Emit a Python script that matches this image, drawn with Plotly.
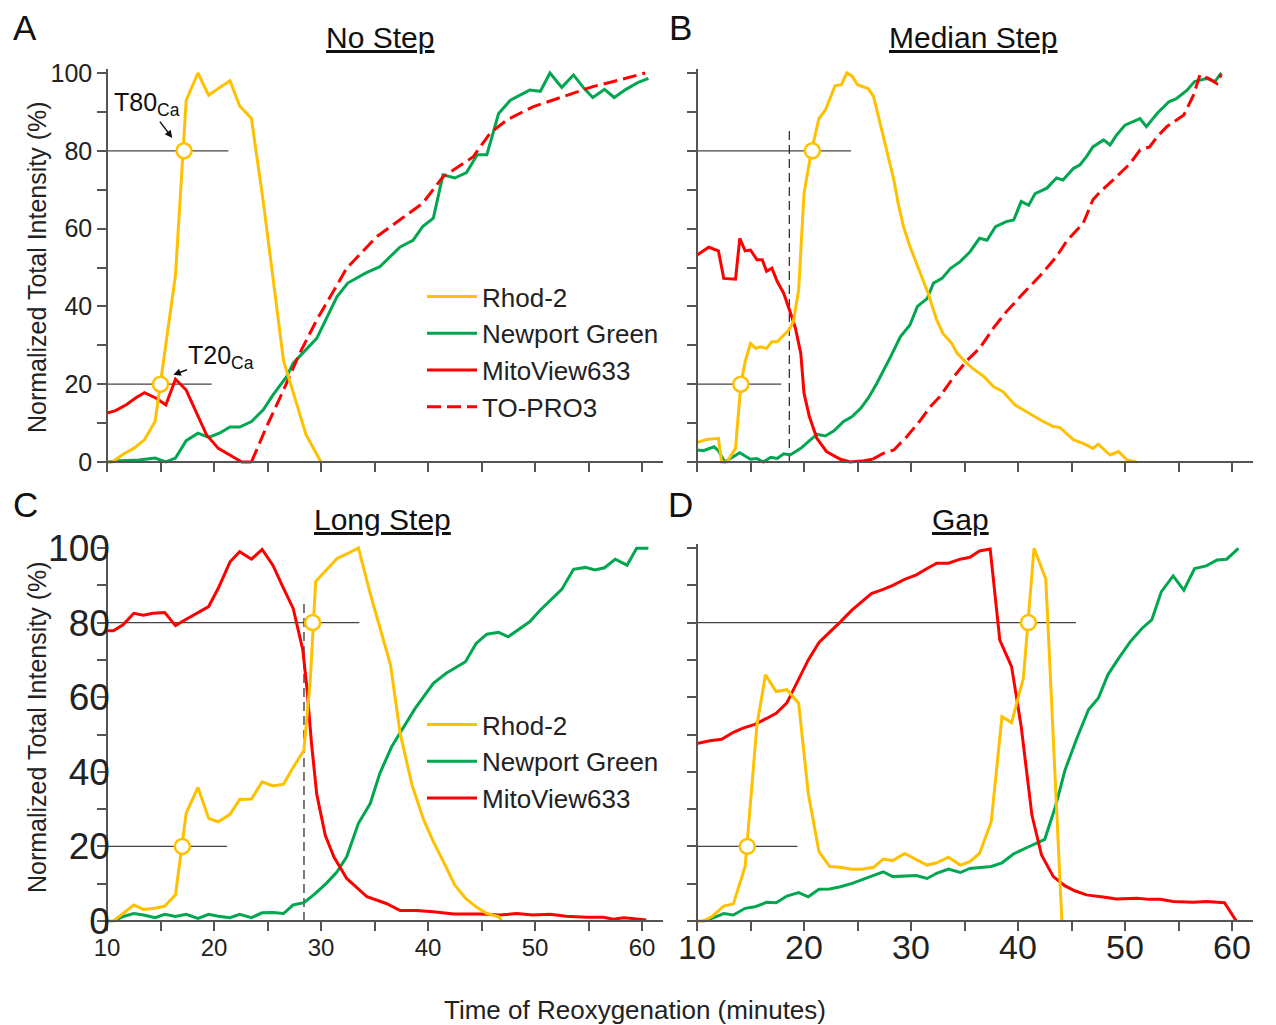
import plotly.graph_objects as go

W, H = 1276, 1025
FONT = "Liberation Sans, Arial, sans-serif"

# ---------------- DATA ----------------
# Panel A: No Step
a_rhod_t = [10, 10.5, 11.5, 12.5, 13.5, 14.5, 16.4, 17.4, 18.5, 19.5, 20.5, 21.5, 22.4, 23.5, 24.6, 25.5, 26.5, 27.5, 28.6, 30.0]
a_rhod_v = [0, 0, 2, 3.5, 5.7, 10.5, 48, 93, 100, 94.3, 96.2, 98, 91.5, 88.3, 67, 48, 26, 17, 7, 0]
a_mito_t = [10, 10.8, 11.8, 12.7, 13.5, 14.6, 15.5, 16.4, 17.4, 18.4, 19.3, 20.4, 21.5, 22.6, 23.5]
a_mito_v = [12.6, 13.2, 14.7, 16.5, 17.8, 16.4, 14.7, 21.3, 18.5, 12.6, 7, 3.5, 1.8, 0, 0]
a_topro_t = [23.5, 24.9, 26.5, 28.0, 29.6, 31.2, 32.4, 35.2, 37.4, 39.5, 41.4, 44.2, 45.8, 47.4, 49.8, 53.0, 55.4, 57.9, 60.3]
a_topro_v = [0, 9, 18.5, 27.9, 36.5, 44.2, 49.8, 57.9, 62.2, 66.5, 73.3, 78.4, 84.5, 88, 91.3, 94.3, 96.5, 98.2, 100]
a_green_t = [10, 11.2, 13.0, 14.5, 15.5, 16.4, 17.4, 18.5, 19.5, 20.5, 21.5, 22.4, 23.5, 24.6, 25.5, 26.8, 27.4, 28.6, 29.6,
             31.5, 32.5, 34.2, 35.5, 37.4, 38.6, 39.5, 40.5, 41.4, 42.5, 43.6, 44.6, 45.5, 46.6, 47.7, 49.5, 50.5, 51.4,
             52.5, 53.6, 54.6, 55.4, 56.5, 57.4, 58.5, 59.6, 60.6]
a_green_v = [0, 0.3, 0.5, 1, 0, 1, 5.5, 7.4, 6.3, 7.4, 9, 9, 10.4, 13.4, 17.2, 22, 25.4, 28.8, 31.8,
             42.5, 46, 48.6, 50.2, 55.3, 57, 60.5, 62.7, 73.8, 73, 74.4, 79, 79, 89.6, 93, 95.6, 95.3, 100,
             96.3, 99.5, 96, 93.7, 95.8, 93.7, 95.8, 97.5, 98.6]

# Panel B: Median Step
b_rhod_t = [10, 10.9, 12, 12.3, 12.8, 13.6, 14.1, 14.5, 15, 15.5, 15.9, 16.5, 17, 17.5, 18.1, 18.6, 19, 19.5, 20, 20.7,
            21.4, 22, 22.9, 23.5, 24, 24.5, 25, 26, 26.5, 27.4, 28.4, 28.8, 29.3, 29.9, 30.9, 31.6, 32.4, 33, 33.8,
            34.3, 35.2, 35.8, 36.8, 37.7, 38.6, 39.7, 40.8, 42.1, 43.3, 43.9, 45.2, 46.1, 47, 47.5, 48.6, 49.4, 50.2, 51.1]
b_rhod_v = [5, 5.8, 6.1, 0, 0, 3.5, 20, 25.8, 30.5, 29.2, 29.6, 29.2, 30.9, 30.9, 32.6, 34, 36, 44.2, 69, 80,
            88.3, 90.5, 96.7, 97, 100, 99.2, 97, 96, 94, 83.6, 72.5, 66.5, 60.5, 55.4, 48.5, 43.4, 36.5, 33, 30.5,
            28, 25.4, 24, 22, 19.4, 18.1, 14.7, 12.9, 10.8, 9.1, 8.9, 5.7, 4.8, 3.5, 4.6, 1.8, 2.7, 0.5, 0]
b_mito_t = [10, 11.1, 12, 12.5, 13.6, 14, 14.5, 15, 15.6, 16.1, 16.5, 17, 17.5, 18.1, 18.7, 19.2, 19.7, 20, 20.5,
            21.2, 22.1, 23.4, 24.3, 25.6, 26.4]
b_mito_v = [53.2, 55.2, 54.3, 47.2, 47, 57.5, 54.3, 54.5, 52, 52, 49, 49.8, 46.4, 43.4, 38.6, 34.4, 27.9, 17.7, 11.7,
            6.1, 2.7, 0.7, 0, 0.3, 0.7]
b_topro_t = [26.4, 27.4, 28.4, 29.6, 30.9, 31.8, 32.7, 34.0, 35.2, 36.4, 37.7, 38.9, 40.5, 42.1, 43.6, 44.6, 46.1,
             47.0, 47.7, 48.9, 50.5, 51.4, 52.3, 53.0, 53.9, 55.5, 56.4, 57.0, 57.8, 58.6, 59.0]
b_topro_v = [0.7, 2.2, 3.1, 6.5, 10.8, 14.2, 16.8, 21.9, 26, 29.2, 34.4, 38.6, 43.4, 48, 52.8, 57, 61.4,
             67.4, 69.5, 72.5, 76.8, 80.2, 81, 83.6, 86.2, 89.2, 94.3, 99.5, 98.6, 97.3, 99.7]
b_green_t = [10, 10.6, 11.6, 12, 12.6, 13.1, 14, 15, 15.6, 16.2, 16.9, 17.5, 18.1, 18.7, 19.7, 20.6, 21.2, 22, 22.8,
             23.7, 24.5, 25.3, 26, 26.8, 27.4, 28.1, 29, 29.9, 30.6, 31.5, 32.1, 32.9, 33.7, 34.6, 35.5, 36.4, 37.1,
             37.9, 38.9, 39.6, 40.3, 41, 41.6, 42.7, 43.6, 44.2, 45.2, 45.8, 46.4, 47, 48, 48.6, 49.2, 50, 51.4, 52,
             53, 54.1, 54.8, 55.8, 56.5, 57.6, 58.4, 59]
b_green_v = [3.1, 2.9, 3.9, 2.9, 0, 0.9, 2.4, 0.7, 0.9, 0, 1.2, 0.9, 2.1, 1.8, 3.5, 5.7, 7.1, 6.7, 8,
             10.4, 11.7, 13.8, 16.4, 20.2, 23.2, 27.1, 32.2, 35.2, 40, 42, 46, 47.2, 49.8, 51.5, 54, 57.5, 57,
             60.5, 61.8, 62.2, 67, 66, 69, 70.4, 73, 72.5, 75.5, 76.4, 78.5, 81, 82.8, 81.5, 84, 86.6, 88.3, 86.2,
             89.6, 92.6, 93.4, 95.6, 97.8, 98.6, 97.8, 100]

# Panel C: Long Step
c_mito_t = [10, 10.6, 11.5, 12.5, 13.4, 14.3, 15.4, 16.4, 17.4, 18.5, 19.5, 20.4, 21.5, 22.4, 23.5, 24.5, 25.5, 26.5,
            27.4, 28.3, 28.7, 29.1, 29.6, 30.4, 31.2, 32.4, 34.3, 36.1, 37.4, 38.9, 40.5, 42.4, 44.9, 46.7, 48.3,
            49.8, 51.4, 52.9, 54.8, 56.4, 57.3, 58.3, 60.4]
c_mito_v = [77.8, 77.8, 79.4, 82.5, 82, 82.5, 82.7, 79.2, 80.9, 82.7, 84.3, 89.2, 96.3, 99, 97, 99.6, 95.4, 89.2,
            83.8, 72.7, 62, 48, 34, 23, 17.2, 11.4, 6.5, 4.7, 2.8, 2.8, 2.5, 1.9, 1.9, 1.6, 2,
            1.6, 1.8, 1.3, 1, 1, 0.5, 0.9, 0.3]
c_rhod_t = [10, 10.6, 11.5, 12.5, 13.4, 14.5, 15.4, 16.4, 17.4, 18.5, 19.5, 20.4, 21.5, 22.4, 23.5, 24.5, 25.5, 26.5,
            27.4, 28.4, 29.0, 29.5, 30.5, 31.5, 32.4, 33.5, 34.6, 35.5, 36.5, 37.4, 38.5, 39.6, 40.5, 41.6, 42.5,
            43.5, 44.5, 45.5, 46.6, 46.9]
c_rhod_v = [0, 0, 2, 4.3, 3.1, 3.4, 4, 7, 28.9, 35.8, 27.5, 26.6, 28.6, 32.6, 32.7, 37.3, 36.2, 36.7,
            41.2, 45.7, 64.6, 91, 94.1, 97.2, 98.4, 100, 87.8, 78.5, 68.6, 50.3, 36.5, 27.1, 21.3, 15, 9.7,
            6.1, 3.8, 2, 1.2, 0]
c_green_t = [10.6, 11.5, 12.5, 13.4, 14.5, 15.4, 16.4, 17.4, 18.5, 19.5, 20.4, 21.5, 22.4, 23.5, 24.5, 25.5, 26.5,
             27.4, 28.4, 29.4, 30.5, 31.5, 32.4, 33.5, 34.6, 35.5, 36.6, 37.7, 38.8, 40.5, 41.7, 43.5, 44.5, 45.5,
             46.6, 47.5, 48.6, 49.5, 50.5, 51.4, 52.5, 53.6, 54.7, 55.6, 56.5, 57.5, 58.6, 59.5, 60.6]
c_green_v = [0, 1.2, 2, 1.6, 0.9, 1.8, 1.2, 1.8, 0.7, 1.8, 1.3, 0.9, 1.8, 0.9, 2.2, 2.3, 2,
             4.3, 4.9, 7.2, 10.1, 13.2, 17.2, 26.2, 31.5, 39.6, 46.7, 51.7, 57, 63.7, 66.4, 69.5, 74.4, 76.9,
             77.4, 76.2, 78.5, 80.2, 83.4, 85.9, 88.9, 94.3, 94.8, 94.1, 94.7, 97, 95.4, 99.9, 99.9]

# Panel D: Gap
d_mito_t = [10, 11.2, 12.3, 13.4, 14.3, 15.4, 16.5, 17.4, 18.4, 19.5, 20.4, 21.4, 22.3, 23.4, 24.5, 25.4, 26.3, 27.4,
            28.3, 29.4, 30.5, 31.5, 32.4, 33.5, 34.6, 35.5, 36.4, 37.4, 38.3, 39.4, 40.3, 41.3, 42.2, 43.3, 44.4,
            45.3, 46.4, 48.3, 49.2, 51.1, 52.3, 53.3, 54.5, 56.4, 57.6, 59.3, 60.4]
d_mito_v = [47.6, 48.3, 48.7, 50.6, 51.7, 52.7, 54.3, 55.7, 58.5, 65, 70, 74.7, 77.1, 80.2, 83.4, 85.6, 87.8, 88.9,
            90, 91.6, 92.8, 94.5, 95.9, 95.9, 97, 97.5, 99.2, 99.7, 75.3, 68.2, 52.1, 28.4, 17.7, 11.9, 9.4,
            8.1, 7, 6.3, 5.9, 6.1, 5.8, 5.8, 5.2, 5, 5.2, 4.9, 0]
d_rhod_t = [10, 10.6, 11.4, 12.5, 13.4, 14.5, 15.6, 16.4, 17.4, 18.4, 19.5, 20.4, 21.4, 22.4, 23.4, 24.5, 25.4, 26.5,
            27.4, 28.3, 29.4, 30.5, 31.5, 32.4, 33.5, 34.6, 35.5, 36.4, 37.5, 38.5, 39.4, 40.5, 41.5, 42.6, 44.1]
d_rhod_v = [0, 0, 1.2, 4, 4.6, 14.6, 52.5, 66, 61.5, 62, 58.4, 34.2, 18.6, 14.6, 14.4, 13.9, 13.9, 14.4,
            16.6, 16.2, 18.1, 16.4, 15, 15.6, 17.1, 15, 15.9, 18.1, 26.6, 54.8, 53.2, 65, 100, 91.6, 0]
d_green_t = [10.6, 11.4, 12.5, 13.4, 14.5, 15.4, 16.5, 17.4, 18.4, 19.5, 20.4, 21.4, 22.4, 23.4, 24.5, 25.4, 26.5,
             27.4, 28.3, 29.4, 30.5, 31.5, 32.4, 33.5, 34.6, 35.5, 36.4, 37.5, 38.5, 39.6, 40.7, 41.6, 42.5, 43.5,
             44.4, 45.5, 46.6, 47.5, 48.4, 49.4, 50.5, 51.6, 52.5, 53.4, 54.5, 55.5, 56.5, 57.6, 58.6, 59.5, 60.6]
d_green_v = [0, 0.7, 2, 1.6, 3.4, 3.8, 5, 4.9, 6.7, 7.6, 6.5, 8.5, 8.6, 9.2, 10.1, 11, 12.1,
             13.2, 11.9, 12.1, 12.2, 11.4, 12.8, 13.9, 13, 14.1, 14.4, 14.6, 15.6, 18, 19.5, 20.6, 21.9, 30.7,
             40.5, 49, 56.7, 59.7, 66, 70.4, 74.9, 78.5, 80.7, 88.3, 92.5, 88.7, 94.5, 95.2, 96.8, 97, 99.9]

# T20 / T80 times (circles) and reference-line extents, panels A-D
t20_times = [15.0, 14.1, 17.04, 14.7]
t80_times = [17.2, 20.78, 29.22, 40.97]
line20_end = [19.78, 17.88, 21.21, 19.38]
line80_end = [21.34, 24.39, 33.58, 45.42]
step_marker_t = [None, 18.63, 28.41, None]
step_marker_top = 86.4

panel_titles = ["No Step", "Median Step", "Long Step", "Gap"]
panel_letters = ["A", "B", "C", "D"]
series_names = ["Rhod-2", "Newport Green", "MitoView633", "TO-PRO3"]
x_tick_vals = [10, 15, 20, 25, 30, 35, 40, 45, 50, 55, 60]
x_tick_text = ["10", " ", "20", " ", "30", " ", "40", " ", "50", " ", "60"]
y_tick_vals = [0, 10, 20, 30, 40, 50, 60, 70, 80, 90, 100]
y_tick_text = ["0", " ", "20", " ", "40", " ", "60", " ", "80", " ", "100"]

# ---------------- STYLE / GEOMETRY ----------------
YEL, GRN, RED = "#FFC000", "#00A650", "#FF0000"
AXC = "#555555"
PX_PER_MIN = 10.7
XR = [10, 62]
YR = [-1, 101]

# page body margin offset (the figure div sits 8 px in from the window corner)
OFF = 8
FW, FH = W - OFF, H - OFF


def px(x):
    return (x - OFF) / FW


def py(y):
    return 1 - (y - OFF) / FH


# (window x pixel of t=10, window y pixel of 0 %, px per % unit)
geom = [(107, 462, 3.89), (697, 462, 3.89), (107, 921, 3.73), (697, 921, 3.73)]

fig = go.Figure()
layout = dict(template="none", width=FW, height=FH,
              margin=dict(l=0, r=0, t=0, b=0, pad=0, autoexpand=False),
              paper_bgcolor="white", plot_bgcolor="rgba(0,0,0,0)",
              font=dict(family=FONT, color="#222"), showlegend=True)

for i, (x0, y0, ppu) in enumerate(geom):
    sfx = "" if i == 0 else str(i + 1)
    xd = [px(x0), px(x0 + (XR[1] - XR[0]) * PX_PER_MIN)]
    ybot = y0 - YR[0] * ppu
    ytop = y0 - YR[1] * ppu
    yd = [py(ybot), py(ytop)]
    show_x = i in (2, 3)
    show_y = i in (0, 2)
    xfont = 24 if i == 2 else 34
    yfont = 25 if i == 0 else 37
    xdict = dict(domain=xd, range=XR, anchor="free", position=py(y0),
                 automargin=False,
                 showline=True, linecolor=AXC, linewidth=1.5,
                 ticks="outside", ticklen=9, tickwidth=1.5, tickcolor=AXC,
                 tickmode="array", tickvals=x_tick_vals, ticktext=x_tick_text,
                 showticklabels=show_x, tickfont=dict(size=xfont, color="#222"),
                 showgrid=False, zeroline=False)
    if i == 2:
        xdict["ticklabelstandoff"] = -4
    if i == 3:
        xdict["ticklabelstandoff"] = -13
    layout["xaxis" + sfx] = xdict
    ydict = dict(domain=yd, range=YR, anchor="free", position=px(x0), automargin=False,
                 showline=True, linecolor=AXC, linewidth=1.5,
                 ticks="outside", ticklen=9, tickwidth=1.5, tickcolor=AXC,
                 tickmode="array", tickvals=y_tick_vals, ticktext=y_tick_text,
                 showticklabels=show_y, tickfont=dict(size=yfont, color="#222"),
                 showgrid=False, zeroline=False)
    if i == 2:
        ydict["ticklabelstandoff"] = -20
    layout["yaxis" + sfx] = ydict

fig.update_layout(**layout)

panel_series = [
    [(a_rhod_t, a_rhod_v), (a_green_t, a_green_v), (a_mito_t, a_mito_v), (a_topro_t, a_topro_v)],
    [(b_rhod_t, b_rhod_v), (b_green_t, b_green_v), (b_mito_t, b_mito_v), (b_topro_t, b_topro_v)],
    [(c_rhod_t, c_rhod_v), (c_green_t, c_green_v), (c_mito_t, c_mito_v), None],
    [(d_rhod_t, d_rhod_v), (d_green_t, d_green_v), (d_mito_t, d_mito_v), None],
]
colors = [YEL, GRN, RED, RED]
dashes = ["solid", "solid", "solid", "14px,6px"]
draw_order = [1, 3, 2, 0]  # green, TO-PRO3, MitoView, Rhod-2 on top
legend_for_panel = {0: "legend", 2: "legend2"}

shapes = []
for i in range(4):
    xa = "x" if i == 0 else "x" + str(i + 1)
    ya = "y" if i == 0 else "y" + str(i + 1)
    shapes.append(dict(type="line", xref=xa, yref=ya, x0=XR[0], x1=line80_end[i], y0=80, y1=80,
                       line=dict(color="#444", width=1.3), layer="below"))
    shapes.append(dict(type="line", xref=xa, yref=ya, x0=XR[0], x1=line20_end[i], y0=20, y1=20,
                       line=dict(color="#444", width=1.3), layer="below"))
    if step_marker_t[i] is not None:
        shapes.append(dict(type="line", xref=xa, yref=ya, x0=step_marker_t[i], x1=step_marker_t[i],
                           y0=0, y1=step_marker_top, line=dict(color="#333", width=1.3, dash="9px,5px"),
                           layer="below"))
    for k in draw_order:
        s = panel_series[i][k]
        if s is None:
            continue
        leg = legend_for_panel.get(i)
        fig.add_trace(go.Scatter(x=s[0], y=s[1], mode="lines", name=series_names[k],
                                 line=dict(color=colors[k], width=3, dash=dashes[k]),
                                 xaxis=xa, yaxis=ya, showlegend=leg is not None,
                                 legend=leg if leg else "legend", legendrank=k + 1,
                                 hoverinfo="skip"))
    fig.add_trace(go.Scatter(x=[t20_times[i], t80_times[i]], y=[20, 80], mode="markers",
                             marker=dict(symbol="circle", size=15, color="white",
                                         line=dict(color=YEL, width=2.5)),
                             xaxis=xa, yaxis=ya, showlegend=False, cliponaxis=False,
                             hoverinfo="skip"))

leg_common = dict(xanchor="left", yanchor="top", bgcolor="rgba(0,0,0,0)",
                  font=dict(size=26, color="#222", family=FONT), itemwidth=50,
                  traceorder="normal", tracegroupgap=0)
fig.update_layout(
    legend=dict(x=px(422), y=py(273), **leg_common),
    legend2=dict(x=px(422), y=py(701), **leg_common),
    shapes=shapes,
)

ann = []
letter_pos = [(25, 27), (680, 27), (25, 504), (680, 504)]
title_pos = [(380, 38), (973, 38), (382, 519), (960, 519)]
for i in range(4):
    ann.append(dict(text=panel_letters[i], x=px(letter_pos[i][0]), y=py(letter_pos[i][1]),
                    xref="paper", yref="paper", showarrow=False, xanchor="center", yanchor="middle",
                    font=dict(size=35, color="#111")))
    ann.append(dict(text="<u>" + panel_titles[i] + "</u>", x=px(title_pos[i][0]), y=py(title_pos[i][1]),
                    xref="paper", yref="paper", showarrow=False, xanchor="center", yanchor="middle",
                    font=dict(size=30, color="#111")))
for yc in (267, 727):
    ann.append(dict(text="Normalized Total Intensity (%)", x=px(37), y=py(yc), xref="paper", yref="paper",
                    showarrow=False, textangle=-90, xanchor="center", yanchor="middle",
                    font=dict(size=25, color="#222")))
ann.append(dict(text="Time of Reoxygenation (minutes)", x=px(635), y=py(1010), xref="paper", yref="paper",
                showarrow=False, xanchor="center", yanchor="middle", font=dict(size=26, color="#222")))
ann.append(dict(text="T80<sub>Ca</sub>", x=16.1, y=83.3, ax=13.7, ay=92.0, xref="x", yref="y",
                axref="x", ayref="y", showarrow=True, arrowhead=2, arrowsize=1, arrowwidth=1.5,
                arrowcolor="#111", font=dict(size=25, color="#111"), standoff=0))
ann.append(dict(text="T20<sub>Ca</sub>", x=16.2, y=22.4, ax=20.7, ay=27.0, xref="x", yref="y",
                axref="x", ayref="y", showarrow=True, arrowhead=2, arrowsize=1, arrowwidth=1.5,
                arrowcolor="#111", font=dict(size=25, color="#111"), standoff=0))
fig.update_layout(annotations=ann)

fig.write_html("out.html")
